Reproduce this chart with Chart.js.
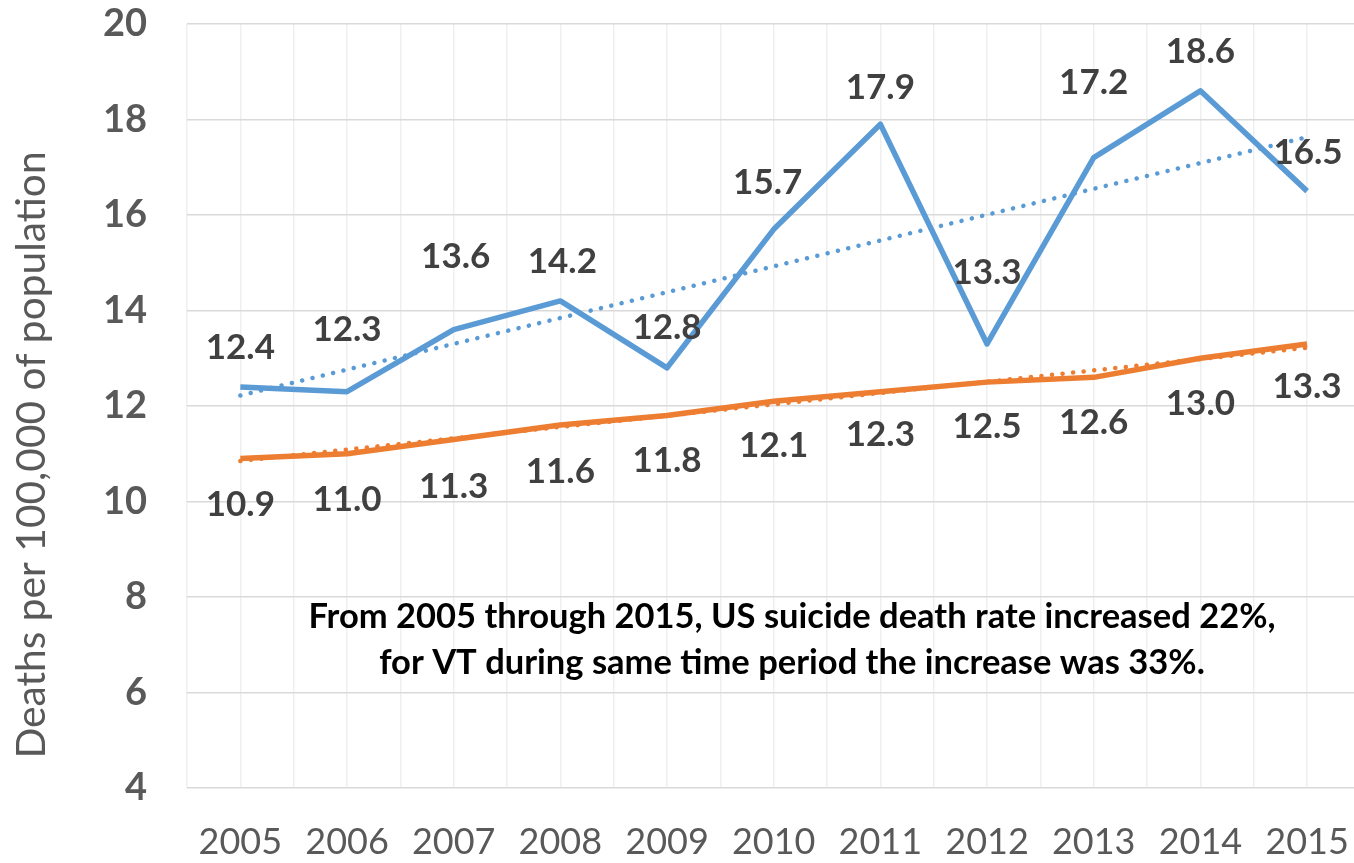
<!DOCTYPE html>
<html>
<head>
<meta charset="utf-8">
<script src="https://cdn.jsdelivr.net/npm/chart.js@4/dist/chart.umd.min.js"></script>
<style>
  html, body { margin: 0; padding: 0; background: #fff; }
  #wrap { width: 1354px; height: 863px; position: relative; }
</style>
</head>
<body>
<div id="wrap"><canvas id="chart"></canvas></div>
<script>
// values
var years = [2005, 2006, 2007, 2008, 2009, 2010, 2011, 2012, 2013, 2014, 2015];
var vtRate = [12.4, 12.3, 13.6, 14.2, 12.8, 15.7, 17.9, 13.3, 17.2, 18.6, 16.5];
var usRate = [10.9, 11.0, 11.3, 11.6, 11.8, 12.1, 12.3, 12.5, 12.6, 13.0, 13.3];
// trendline end points (2005, 2015)
var trendYears = [2005, 2015];
var vtTrend = [12.22, 17.63];
var usTrend = [10.85, 13.22];
var yTicks = [4, 6, 8, 10, 12, 14, 16, 18, 20];
var yTitle = 'Deaths per 100,000 of population';
var note = [
    'From 2005 through 2015, US suicide death rate increased 22%,',
    'for VT during same time period the increase was 33%.'
];

function toPoints(xs, ys) {
    return xs.map(function (x, i) { return { x: x, y: ys[i] }; });
}

// label offsets in px from each point (style only)
var vtLabelDy = [-39, -62, -73, -39, -40, -47, -37, -71, -75, -39, -38];
var vtLabelDx = [0, 0, 2, 2, 0, -6, 0, 0, 0, 0, 1];
var usLabelDy = [46, 46, 47, 47, 45, 44, 43, 45, 45, 45, 43];

function fitFont(ctx, text, weight, family, targetWidth) {
    ctx.font = weight + ' 40px ' + family;
    var w = ctx.measureText(text).width;
    return 40 * targetWidth / w;
}

var labelPlugin = {
    id: 'labels',
    afterDatasetsDraw: function (chart) {
        var ctx = chart.ctx;
        ctx.save();
        ctx.fillStyle = '#404040';
        ctx.font = 'bold 35px Lato';
        ctx.textAlign = 'center';
        ctx.textBaseline = 'middle';
        chart.getDatasetMeta(0).data.forEach(function (pt, i) {
            ctx.fillText(vtRate[i].toFixed(1), pt.x + vtLabelDx[i], pt.y + vtLabelDy[i]);
        });
        chart.getDatasetMeta(1).data.forEach(function (pt, i) {
            ctx.fillText(usRate[i].toFixed(1), pt.x, pt.y + usLabelDy[i]);
        });

        // note text
        ctx.fillStyle = '#000';
        var fs = fitFont(ctx, note[0], 'bold', 'Lato', 968);
        ctx.font = 'bold ' + fs.toFixed(1) + 'px Lato';
        ctx.fillText(note[0], 792, 617);
        ctx.fillText(note[1], 792, 663);

        // y axis title
        var ts = fitFont(ctx, yTitle, 'normal', 'Lato', 608);
        ctx.font = 'normal ' + ts.toFixed(1) + 'px Lato';
        ctx.fillStyle = '#595959';
        ctx.translate(32, 455);
        ctx.rotate(-Math.PI / 2);
        ctx.fillText(yTitle, 0, 0);
        ctx.restore();
    }
};

var ctx = document.getElementById('chart').getContext('2d');
var chart = new Chart(ctx, {
    type: 'line',
    data: {
        datasets: [
            {
                label: 'VT',
                data: toPoints(years, vtRate),
                borderColor: '#5B9BD5',
                borderWidth: 5.5,
                pointRadius: 0,
                tension: 0,
                borderJoinStyle: 'round',
                order: 2
            },
            {
                label: 'US',
                data: toPoints(years, usRate),
                borderColor: '#ED7D31',
                borderWidth: 5.5,
                pointRadius: 0,
                tension: 0,
                borderJoinStyle: 'round',
                order: 2
            },
            {
                label: 'VT trend',
                data: toPoints(trendYears, vtTrend),
                borderColor: '#5B9BD5',
                borderWidth: 4.5,
                borderDash: [0.1, 10.5],
                borderCapStyle: 'round',
                pointRadius: 0,
                order: 1
            },
            {
                label: 'US trend',
                data: toPoints(trendYears, usTrend),
                borderColor: '#ED7D31',
                borderWidth: 4.5,
                borderDash: [0.1, 10.5],
                borderCapStyle: 'round',
                pointRadius: 0,
                order: 1
            }
        ]
    },
    options: {
        responsive: true,
        maintainAspectRatio: false,
        animation: false,
        layout: { padding: { top: 24, left: 0, right: 0, bottom: 0 } },
        plugins: {
            legend: { display: false },
            tooltip: { enabled: false }
        },
        scales: {
            x: {
                type: 'linear',
                min: 2004.5,
                max: 2015.44,
                grid: { color: '#EFEFEF', lineWidth: 1.5, drawTicks: false },
                border: { display: false },
                afterFit: function (scale) {
                    scale.height = 75;
                    scale.paddingLeft = 0;
                    scale.paddingRight = 0;
                },
                afterBuildTicks: function (scale) {
                    var t = [];
                    years.forEach(function (y) {
                        t.push({ value: y - 0.5 });
                        t.push({ value: y });
                    });
                    scale.ticks = t;
                },
                ticks: {
                    autoSkip: false,
                    maxRotation: 0,
                    padding: 33,
                    color: '#595959',
                    font: { family: 'Lato', size: 36 },
                    callback: function (v) {
                        return years.indexOf(v) >= 0 ? String(v) : '';
                    }
                }
            },
            y: {
                min: yTicks[0],
                max: yTicks[yTicks.length - 1],
                grid: { color: '#D9D9D9', lineWidth: 1.5, drawTicks: false },
                border: { display: false },
                afterFit: function (scale) {
                    scale.width = 187;
                    scale.paddingTop = 0;
                    scale.paddingBottom = 0;
                },
                afterBuildTicks: function (scale) {
                    scale.ticks = yTicks.map(function (v) { return { value: v }; });
                },
                ticks: {
                    padding: 40,
                    color: '#595959',
                    font: { family: 'Lato', size: 38, weight: 'bold' }
                }
            }
        }
    },
    plugins: [labelPlugin]
});
</script>
</body>
</html>
